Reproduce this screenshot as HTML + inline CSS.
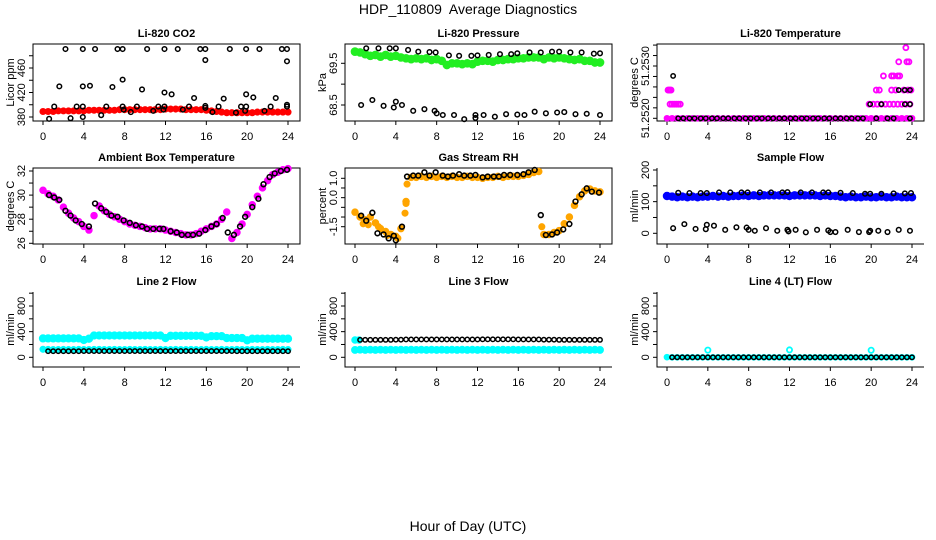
<!DOCTYPE html>
<html><head><meta charset="utf-8"><style>
html,body{margin:0;padding:0;background:#fff;}
svg{display:block;font-family:"Liberation Sans",sans-serif;}
</style></head><body>
<svg id="c" width="936" height="540" viewBox="0 0 936 540">
<text x="468" y="14" text-anchor="middle" font-size="14" style="white-space:pre">HDP_110809  Average Diagnostics</text>
<text x="468" y="531" text-anchor="middle" font-size="14">Hour of Day (UTC)</text>
</svg>
<script>
const HH=[0,0.5,1,1.5,2,2.5,3,3.5,4,4.5,5,5.5,6,6.5,7,7.5,8,8.5,9,9.5,10,10.5,11,11.5,12,12.5,13,13.5,14,14.5,15,15.5,16,16.5,17,17.5,18,18.5,19,19.5,20,20.5,21,21.5,22,22.5,23,23.5,24];
const HB=[0.5,1,1.5,2,2.5,3,3.5,4,4.5,5,5.5,6,6.5,7,7.5,8,8.5,9,9.5,10,10.5,11,11.5,12,12.5,13,13.5,14,14.5,15,15.5,16,16.5,17,17.5,18,18.5,19,19.5,20,20.5,21,21.5,22,22.5,23,23.5,24];
const xTicks=[0,4,8,12,16,20,24];

// CO2
const co2Red=[389,389,389,390,390,390,390,390,390,391,391,391,391,391,391,392,392,392,392,392,392,392,392,392,393,393,393,393,392,392,392,392,391,390,389,388,387,387,387,387,387,387,388,388,388,388,388,388,388];
const co2BlackH=[1.1,2.2,1.6,0.6,2.7,3.3,3.9,3.9,3.9,3.9,4.6,5.1,5.7,6.2,6.8,7.3,7.8,7.8,7.8,7.9,8.6,9.2,9.7,10.2,10.8,11.3,11.9,11.9,11.9,11.8,12.6,13.2,13.7,14.3,14.8,15.4,15.9,15.9,15.9,15.9,16.6,17.2,17.7,18.3,18.9,19.4,19.9,19.9,19.9,19.8,20.6,21.2,21.7,22.3,22.8,23.4,23.9,23.9,23.9,23.9];
const co2BlackV=[397,491,430,377,378,397,491,430,397,380,431,491,383,397,429,491,491,441,397,392,388,397,425,491,390,397,491,420,397,392,417,491,392,397,411,491,491,473,398,395,388,397,410,491,387,397,491,417,397,390,412,491,390,397,411,491,491,471,400,397];
const co2Ticks=[380,400,420,440,460,480];
const co2Labels=[380,420,460];
// Pressure
const presGreen=[69.78,69.76,69.72,69.68,69.70,69.66,69.70,69.66,69.68,69.64,69.62,69.60,69.62,69.60,69.62,69.58,69.60,69.56,69.46,69.50,69.50,69.48,69.50,69.48,69.54,69.56,69.56,69.54,69.58,69.58,69.60,69.60,69.62,69.62,69.64,69.64,69.64,69.60,69.64,69.62,69.64,69.62,69.60,69.58,69.60,69.56,69.56,69.52,69.52];
const presHiH=[1.1,2.3,3.4,4,5.2,6.2,7.3,7.9,9.2,10.2,11.4,12,13.1,14.2,15.3,15.9,17.1,18.2,19.3,20,21.1,22.2,23.4,24];
const presHiV=[69.86,69.86,69.86,69.86,69.82,69.78,69.77,69.76,69.69,69.68,69.68,69.69,69.70,69.72,69.72,69.74,69.76,69.76,69.78,69.78,69.76,69.76,69.73,69.74];
const presLoH=[0.6,1.7,2.8,3.8,4,4.6,5.7,6.8,7.8,8,8.6,9.7,10.7,11.8,11.8,12.6,13.7,14.8,15.9,16.6,17.6,18.7,19.8,20.5,21.6,22.7,24];
const presLoV=[68.5,68.62,68.48,68.44,68.58,68.5,68.36,68.4,68.36,68.3,68.26,68.26,68.16,68.19,68.26,68.26,68.22,68.28,68.27,68.26,68.34,68.3,68.32,68.33,68.28,68.29,68.26];
const presTicks=[68.5,69.0,69.5];
const presLabels=[68.5,69.5];
// Li-820 temperature
const tmpBase=[51.2520,51.2520,51.2520,51.2520,51.2520,51.2520,51.2520,51.2520,51.2520,51.2520,51.2520,51.2520,51.2520,51.2520,51.2520,51.2520,51.2520,51.2520,51.2520,51.2520,51.2520,51.2520,51.2520,51.2520,51.2520,51.2520,51.2520,51.2520,51.2520,51.2520,51.2520,51.2520,51.2520,51.2520,51.2520,51.2520,51.2520,51.2520,51.2520,51.2520,51.2520,51.2520,51.2520,51.2520,51.2520,51.2520,51.2520,51.2520,51.2520];
const tmpMagH=[0.1,0.2,0.3,0.4,0.3,0.5,0.7,0.9,1.1,1.3,19.8,20.2,20.6,21,21.4,21.8,22.2,22.6,23,23.4,23.8,20.5,20.8,21.2,22,22.2,22.4,22.6,22.7,22.8,23.4,23.5,23.7,23.2,23.6,23.9,22];
const tmpMagV=[51.25254,51.25254,51.25254,51.25254,51.25227,51.25227,51.25227,51.25227,51.25227,51.25227,51.25227,51.25227,51.25227,51.25227,51.25227,51.25227,51.25227,51.25227,51.25227,51.25227,51.25227,51.25254,51.25254,51.25281,51.25281,51.25281,51.25254,51.25281,51.25308,51.25281,51.25335,51.25308,51.25308,51.25254,51.25254,51.25254,51.25254];
const tmpBlkH=[1.1,1.6,2.2,2.7,3.3,3.8,4.4,4.9,5.5,6,6.6,7.1,7.7,8.2,8.8,9.3,9.9,10.4,11,11.5,12.1,12.6,13.2,13.7,14.3,14.8,15.4,15.9,16.5,17,17.6,18.1,18.7,19.2,20.5,21.6,22.2,0.6,19.9,21,22.7,23.3,23.8,23.8,23.3,23.8];
const tmpBlkV=[51.2520,51.2520,51.2520,51.2520,51.2520,51.2520,51.2520,51.2520,51.2520,51.2520,51.2520,51.2520,51.2520,51.2520,51.2520,51.2520,51.2520,51.2520,51.2520,51.2520,51.2520,51.2520,51.2520,51.2520,51.2520,51.2520,51.2520,51.2520,51.2520,51.2520,51.2520,51.2520,51.2520,51.2520,51.2520,51.2520,51.2520,51.25281,51.25227,51.25227,51.25254,51.25254,51.25254,51.25227,51.25227,51.2520];
const tmpTicks=[51.2520,51.2522,51.2524,51.2526,51.2528,51.2530,51.2532,51.2534];
const tmpLabels=["51.2520","51.2530"];
// Ambient
const ambMag=[30.4,30.1,29.9,29.6,29.0,28.5,28.1,27.8,27.4,27.1,28.3,29.1,28.7,28.4,28.2,28.0,27.8,27.6,27.5,27.4,27.3,27.2,27.2,27.2,27.1,27.0,26.9,26.8,26.7,26.7,26.8,27.0,27.2,27.4,27.6,28.0,28.6,26.4,26.9,27.6,28.4,29.2,29.9,30.6,31.2,31.7,31.9,32.1,32.2];
const ambBlkH=[0.6,1.1,1.6,2.2,2.7,3.2,3.8,4.5,5.1,5.7,6.2,6.7,7.3,7.9,8.5,9.1,9.7,10.2,10.8,11.4,11.8,12.5,13.1,13.6,14.2,14.7,15.3,15.9,16.5,17,17.6,18.1,18.7,19.3,19.8,20.5,21.1,21.6,22.2,22.7,23.3,23.9];
const ambBlkV=[30.0,29.8,29.6,28.7,28.3,27.9,27.6,27.4,29.3,28.9,28.6,28.3,28.2,27.9,27.7,27.5,27.4,27.2,27.2,27.2,27.2,27.0,26.9,26.7,26.7,26.7,26.8,27.1,27.4,27.6,28.1,26.9,26.7,27.4,28.2,29.0,29.7,30.9,31.5,31.8,32.0,32.1];
const ambTicks=[26,27,28,29,30,31,32];
const ambLabels=[26,28,30,32];
// RH
const rhOrange=[-0.75,-1.0,-1.15,-1.0,-1.3,-1.6,-1.75,-1.9,-2.0,-1.6,-0.2,1.05,1.05,1.1,1.05,1.1,1.05,1.1,1.05,1.1,1.05,1.05,1.1,1.05,1.05,1.0,1.05,1.05,1.1,1.05,1.1,1.1,1.1,1.15,1.2,1.3,1.35,-1.9,-1.9,-1.8,-1.7,-1.35,-1.0,-0.4,0.05,0.35,0.45,0.35,0.3];
const rhExtraH=[5.1,5.0,18.3,4.9,0.8,1.3,2.3,3.2,4.2];
const rhExtraV=[0.7,-0.3,-1.5,-0.8,-1.35,-1.4,-1.5,-1.95,-2.1];
const rhBlkH=[0.6,1.1,1.7,2.2,2.8,3.3,3.8,4,4.6,5.1,5.7,6.2,6.8,7.3,7.9,8.6,9.1,9.6,10.2,10.7,11.3,11.8,12.5,13,13.6,14.1,14.6,15.2,15.9,16.5,17,17.6,18.2,18.7,19.3,19.8,20.4,21,21.6,22.2,22.7,23.2,23.9];
const rhBlkV=[-0.93,-1.19,-0.78,-1.84,-1.9,-2.1,-1.97,-2.2,-1.5,1.09,1.14,1.14,1.31,1.14,1.31,1.14,1.09,1.14,1.21,1.14,1.14,1.17,1.05,1.09,1.09,1.09,1.17,1.17,1.17,1.21,1.31,1.43,-0.9,-1.93,-1.9,-1.8,-1.64,-1.36,-0.2,0.17,0.48,0.31,0.26];
const rhTicks=[-1.5,-1.0,-0.5,0.0,0.5,1.0];
const rhLabels=["-1.5","0.0","1.0"];
// Sample flow
const sfBlue=[118,116,114,116,114,116,114,116,116,118,116,118,116,118,118,120,118,120,118,120,120,120,120,120,118,120,120,120,120,120,118,120,118,118,116,114,116,114,114,116,114,114,116,114,114,116,114,114,114];
const sfHiH=[1.1,2.2,3.3,3.9,5.1,6.2,7.3,7.9,9.1,10.2,11.3,11.8,13.1,14.2,15.3,15.8,17,18.2,19.4,19.9,21,22.2,23.3,23.9];
const sfHiV=[128,127,127,127,129,129,129,129,129,129,129,130,129,129,129,129,128,127,125,125,125,126,126,127];
const sfLoH=[0.6,1.7,2.8,3.8,3.9,4.6,5.7,6.8,7.8,8,8.6,9.7,10.8,11.8,11.9,12.6,13.6,14.7,15.8,16,16.5,17.7,18.8,19.8,19.9,20.7,21.6,22.7,23.8];
const sfLoV=[16,29,14,13,27,24,11,19,18,11,8,16,8,11,6,11,3,11,9,4,4,11,4,4,8,8,4,11,8];
const sfTicks=[0,50,100,150,200];
const sfLabels=[0,100,200];
// Line flows
const lnTicks=[0,200,400,600,800,1000];
const lnLabels=[0,400,800];
const l2CyanHi=[295,295,295,295,295,295,295,295,270,290,340,340,340,340,340,340,340,340,340,340,340,340,340,340,300,335,335,335,335,335,335,335,310,330,330,330,300,300,300,300,265,290,290,290,290,290,290,290,290];
const l2CyanLo=[125,122,120,120,122,120,120,122,120,120,122,122,120,120,122,120,120,122,120,120,122,120,120,122,120,120,122,120,120,122,120,120,122,120,120,122,120,120,122,120,120,122,120,120,122,120,120,122,120];
const l2Black=[95,95,95,95,95,95,95,97,97,97,97,97,97,97,97,97,97,97,97,97,97,97,97,97,97,97,97,97,97,97,97,97,97,97,97,97,97,95,95,95,95,95,95,95,95,95,95,95];
const l3CyanHi=[270,270];
const l3CyanHiH=[0,0.4];
const l3CyanLo=[115,118,115,118,115,118,115,118,115,118,115,118,115,118,115,118,115,118,115,118,115,118,115,118,115,118,115,118,115,118,115,118,115,118,115,118,115,118,115,118,115,118,115,118,115,118,115,118,115];
const l3Black=[272,272,272,272,272,272,272,275,275,278,278,278,278,278,278,278,278,278,278,278,278,278,278,278,280,280,280,280,280,280,280,278,278,278,278,278,275,275,275,272,272,272,272,272,272,272,272,272];
const l4Cyan=[2,0,0,0,0,0,0,0,0,0,0,0,0,0,0,0,0,0,0,0,0,0,0,0,0,0,0,0,0,0,0,0,0,0,0,0,0,0,0,0,0,0,0,0,0,0,0,0,0];
const l4SpikeH=[4,12,20];
const l4SpikeV=[112,115,110];
const l4Black=[0,0,0,0,0,0,0,0,0,0,0,0,0,0,0,0,0,0,0,0,0,0,0,0,0,0,0,0,0,0,0,0,0,0,0,0,0,0,0,0,0,0,0,0,0,0,0,0];

const svg=document.getElementById('c');
const NS='http://www.w3.org/2000/svg';
function mk(tag,at,parent){const e=document.createElementNS(NS,tag);for(const k in at)e.setAttribute(k,at[k]);(parent||svg).appendChild(e);return e;}
const rows=[[44,121],[168,244],[292,367]];

function panel(name,title,ytitle,c,r,yv1,yp1,yv2,yp2,box,yt,yl){
  const g=mk('g',{});
  
  
  const L=33+312*c,R=300+312*c,T=rows[r][0],B=rows[r][1];
  const X=h=>43+312*c+h*(245/24);
  const Y=v=>yp1+(v-yv1)*(yp2-yp1)/(yv2-yv1);
  const fr=box?mk('rect',{x:L,y:T,width:R-L,height:B-T,fill:'none',stroke:'#000','stroke-width':1},g)
             :mk('path',{d:`M${L},${T}V${B}H${R}`,fill:'none',stroke:'#000','stroke-width':1},g);
  
  
  const t=mk('text',{x:(L+R)/2,y:T-7,'text-anchor':'middle','font-size':11,'font-weight':'bold'},g);
  t.textContent=title;
  
  
  const yt2=mk('text',{x:0,y:0,'text-anchor':'middle','font-size':11,transform:`translate(${14+312*c},${(T+B)/2}) rotate(-90)`},g);
  yt2.textContent=ytitle;
  
  
  xTicks.forEach(h=>{
    mk('line',{x1:X(h),x2:X(h),y1:B,y2:B+4,stroke:'#000'},g);
    const tx=mk('text',{x:X(h),y:B+19,'text-anchor':'middle','font-size':11},g);
    tx.textContent=h;
    
    
  });
  yt.forEach(v=>mk('line',{x1:L,x2:L-4,y1:Y(v),y2:Y(v),stroke:'#000'},g));
  yl.forEach(v=>{
    const tx=mk('text',{x:0,y:0,'text-anchor':'middle','font-size':11,transform:`translate(${L-8},${Y(parseFloat(v))}) rotate(-90)`},g);
    tx.textContent=v;
    
    
  });
  return {g,X,Y};
}
function pts(p,hs,vs,color,r,sw,nm,fill){
  const g=mk('g',{},p.g);
  
  
  for(let i=0;i<vs.length;i++){
    const el=mk('circle',{cx:p.X(hs[i]),cy:p.Y(vs[i]),r:r,fill:fill?color:'none',stroke:color,'stroke-width':sw},g);
    
    
  }
}
const BK='#000';
let p;
p=panel('co2-panel','Li-820 CO2','Licor ppm',0,0,380,117,460,68,true,co2Ticks,co2Labels);
pts(p,HH,co2Red,'#ff0000',2.8,1.5,'co2-red-series',true);
pts(p,co2BlackH,co2BlackV,BK,2.3,1.5,'co2-black-series');

p=panel('pressure-panel','Li-820 Pressure','kPa',1,0,69.5,63.3,68.5,105,true,presTicks,presLabels);
pts(p,HH,presGreen,'#22ee22',3.6,1.5,'pressure-green-series',true);
pts(p,presHiH,presHiV,BK,2.3,1.5,'pressure-black-high');
pts(p,presLoH,presLoV,BK,2.3,1.5,'pressure-black-low');

p=panel('li820-temp-panel','Li-820 Temperature','degrees C',2,0,51.2520,118.3,51.2530,66,true,tmpTicks,tmpLabels);
pts(p,HH,tmpBase,'#ff00ff',2.6,1.5,'temp-magenta-base',true);
pts(p,tmpMagH,tmpMagV,'#ff00ff',2.5,1.8,'temp-magenta-extra');
pts(p,tmpBlkH,tmpBlkV,BK,2.2,1.5,'temp-black-series');

p=panel('ambient-temp-panel','Ambient Box Temperature','degrees C',0,1,32,171,26,243.3,true,ambTicks,ambLabels);
pts(p,HH,ambMag,'#ff00ff',3,1.5,'ambient-magenta-series',true);
pts(p,ambBlkH,ambBlkV,BK,2.4,1.6,'ambient-black-series');

p=panel('rh-panel','Gas Stream RH','percent',1,1,1.0,178.3,-1.5,226.7,true,rhTicks,rhLabels);
pts(p,HH,rhOrange,'#ffa500',3,1.5,'rh-orange-series',true);
pts(p,rhExtraH,rhExtraV,'#ffa500',2.8,1.5,'rh-orange-extra',true);
pts(p,rhBlkH,rhBlkV,BK,2.4,1.6,'rh-black-series');

p=panel('sample-flow-panel','Sample Flow','ml/min',2,1,200,170,0,233.3,false,sfTicks,sfLabels);
pts(p,HH,sfBlue,'#0000ff',3.5,1.5,'sample-blue-series',true);
pts(p,sfHiH,sfHiV,BK,2.3,1.5,'sample-black-high');
pts(p,sfLoH,sfLoV,BK,2.3,1.5,'sample-black-low');

p=panel('line2-flow-panel','Line 2 Flow','ml/min',0,2,0,357.3,800,306,false,lnTicks,lnLabels);
pts(p,HH,l2CyanHi,'#00ffff',3.4,1.5,'line2-cyan-high',true);
pts(p,HH,l2CyanLo,'#00ffff',2.8,1.5,'line2-cyan-low',true);
pts(p,HB,l2Black,BK,2.2,1.5,'line2-black-series');

p=panel('line3-flow-panel','Line 3 Flow','ml/min',1,2,0,357.3,800,306,false,lnTicks,lnLabels);
pts(p,l3CyanHiH,l3CyanHi,'#00ffff',3,1.5,'line3-cyan-high',true);
pts(p,HH,l3CyanLo,'#00ffff',3.2,1.5,'line3-cyan-low',true);
pts(p,HB,l3Black,BK,2.2,1.5,'line3-black-series');

p=panel('line4-flow-panel','Line 4 (LT) Flow','ml/min',2,2,0,357.3,800,306,false,lnTicks,lnLabels);
pts(p,HH,l4Cyan,'#00ffff',2.6,1.5,'line4-cyan-series',true);
pts(p,l4SpikeH,l4SpikeV,'#00ffff',2.6,1.8,'line4-cyan-spikes');
pts(p,HB,l4Black,BK,2.2,1.5,'line4-black-series');
</script>
</body></html>
